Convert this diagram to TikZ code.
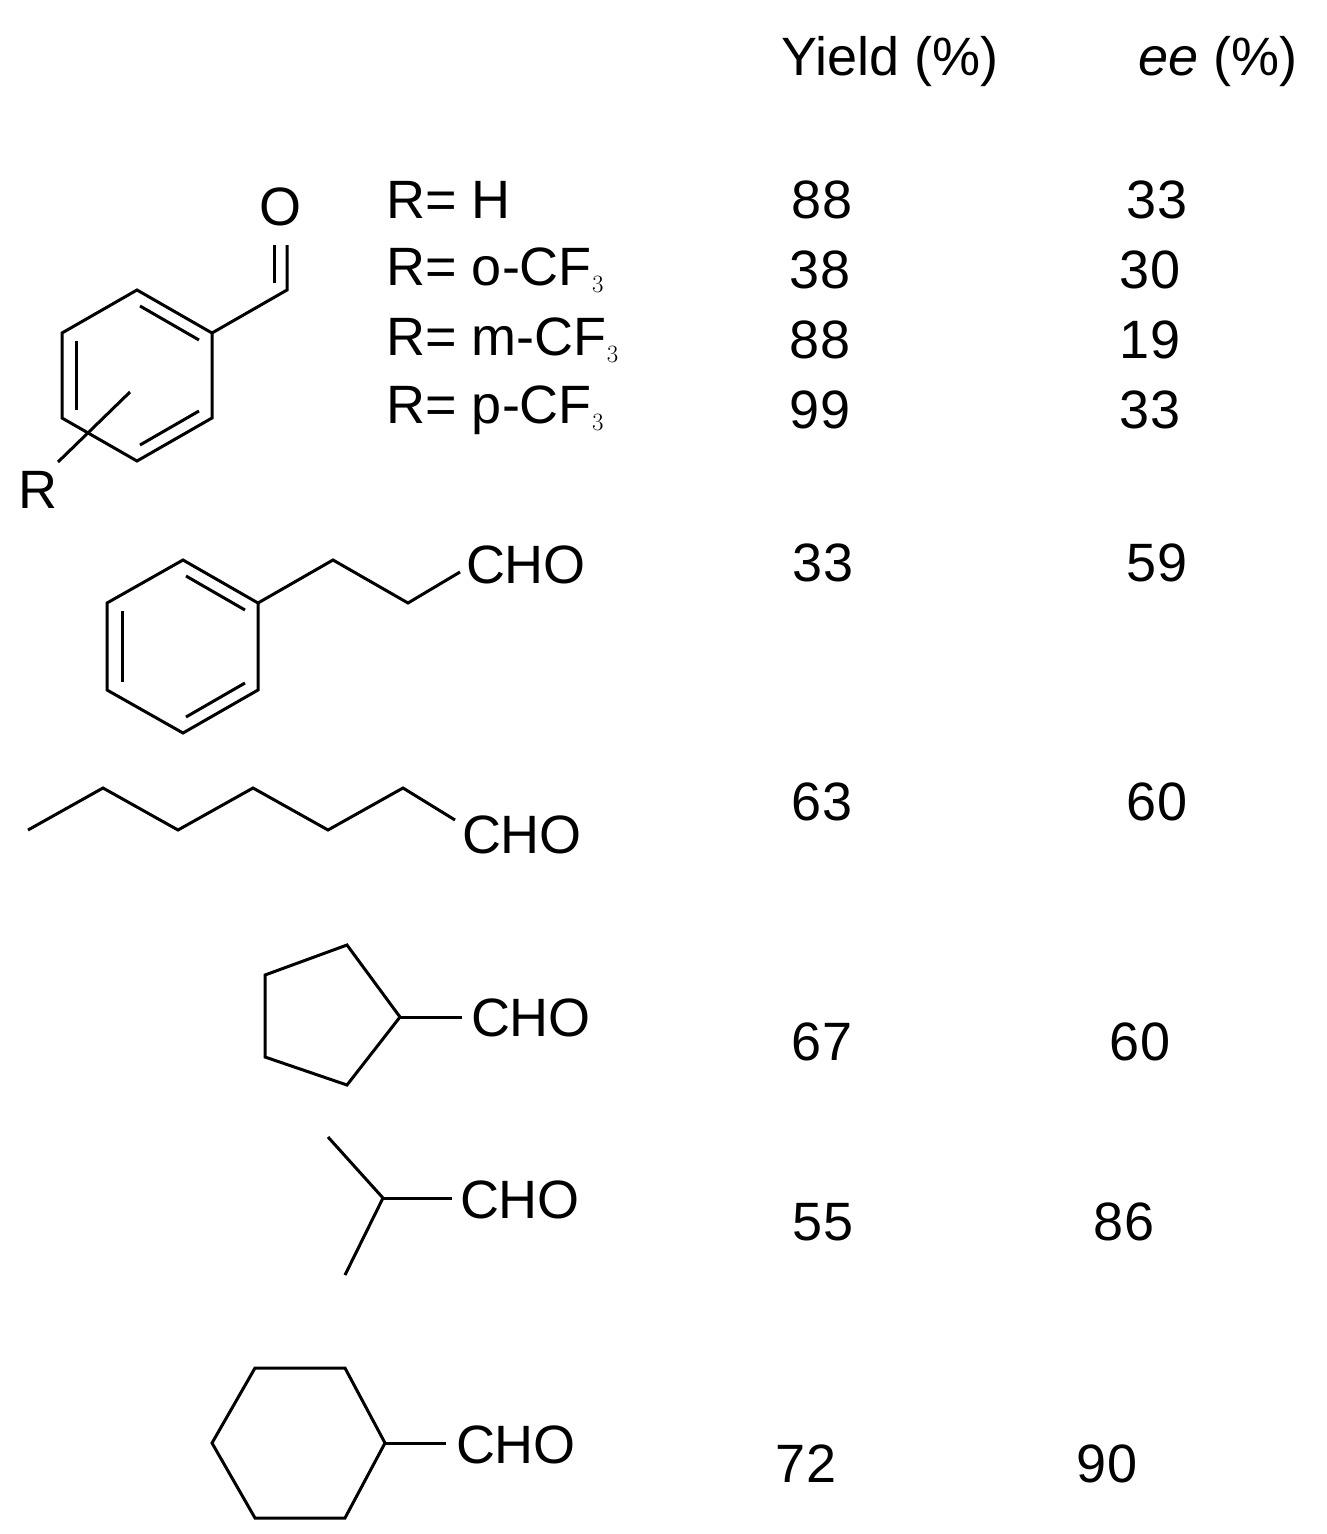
\documentclass[tikz,border=0pt]{standalone}
\usepackage{fontspec}
\setmainfont{Liberation Sans}
\begin{document}
\begin{tikzpicture}[x=1pt,y=-1pt,line width=3pt,line join=miter,
  lbl/.style={font=\fontsize{54}{60}\selectfont,inner sep=0pt,anchor=center},
  lft/.style={font=\fontsize{54}{60}\selectfont,inner sep=0pt,anchor=west}]
\useasboundingbox (0,0) rectangle (1327,1534);
% headers
\node[lbl] (hy) at (890,62) {Yield (\%)};
\node[lbl] (he) at (1218,62) {\textit{ee} (\%)};
% benzaldehyde
\draw (137,290)--(212,333)--(212,418)--(137,461)--(62,418)--(62,333)--cycle;
\draw (140,306)--(199,340);
\draw (199,411)--(140,445);
\draw (76,341)--(76,410);
\draw (212,333)--(287,290)--(287,245);
\draw (274,283)--(274,245);
\node[lbl] (O) at (280,207) {O};
\draw (130,392)--(58,462);
\node[lbl] (R) at (38,490) {R};
\node[lft] (r1) at (385,200) {R= H};
\node[lft] (r2) at (385,270) {R= o-CF$_3$};
\node[lft] (r3) at (385,340) {R= m-CF$_3$};
\node[lft] (r4) at (385,410) {R= p-CF$_3$};
% phenylpropanal
\draw (183,560)--(258,603)--(258,690)--(183,733)--(107,690)--(107,603)--cycle;
\draw (186,576)--(245,610);
\draw (245,683)--(186,717);
\draw (122,611)--(122,682);
\draw (258,603)--(333,560)--(408,603)--(460,572);
\node[lbl] (c1) at (526,565) {CHO};
% heptanal
\draw (28,830)--(103,788)--(178,830)--(253,788)--(328,830)--(403,788)--(455,820);
\node[lbl] (c2) at (522,835) {CHO};
% cyclopentane
\draw (347,945)--(400,1017)--(347,1085)--(265,1057)--(265,975)--cycle;
\draw (400,1017)--(462,1017);
\node[lbl] (c3) at (531,1018) {CHO};
% isobutyraldehyde
\draw (328,1137)--(383,1198)--(345,1275);
\draw (383,1198)--(452,1198);
\node[lbl] (c4) at (520,1200) {CHO};
% cyclohexane
\draw (345,1368)--(385,1443)--(345,1518)--(255,1518)--(212,1443)--(255,1368)--cycle;
\draw (385,1443)--(446,1443);
\node[lbl] (c5) at (516,1445) {CHO};
% numbers
\node[lbl] (y1) at (822,200) {88};
\node[lbl] (y2) at (820,270) {38};
\node[lbl] (y3) at (820,340) {88};
\node[lbl] (y4) at (820,410) {99};
\node[lbl] (y5) at (823,563) {33};
\node[lbl] (y6) at (822,802) {63};
\node[lbl] (y7) at (822,1042) {67};
\node[lbl] (y8) at (823,1222) {55};
\node[lbl] (y9) at (806,1464) {72};
\node[lbl] (e1) at (1157,200) {33};
\node[lbl] (e2) at (1150,270) {30};
\node[lbl] (e3) at (1150,340) {19};
\node[lbl] (e4) at (1150,410) {33};
\node[lbl] (e5) at (1157,563) {59};
\node[lbl] (e6) at (1157,802) {60};
\node[lbl] (e7) at (1140,1042) {60};
\node[lbl] (e8) at (1124,1222) {86};
\node[lbl] (e9) at (1107,1464) {90};
\end{tikzpicture}
\end{document}
